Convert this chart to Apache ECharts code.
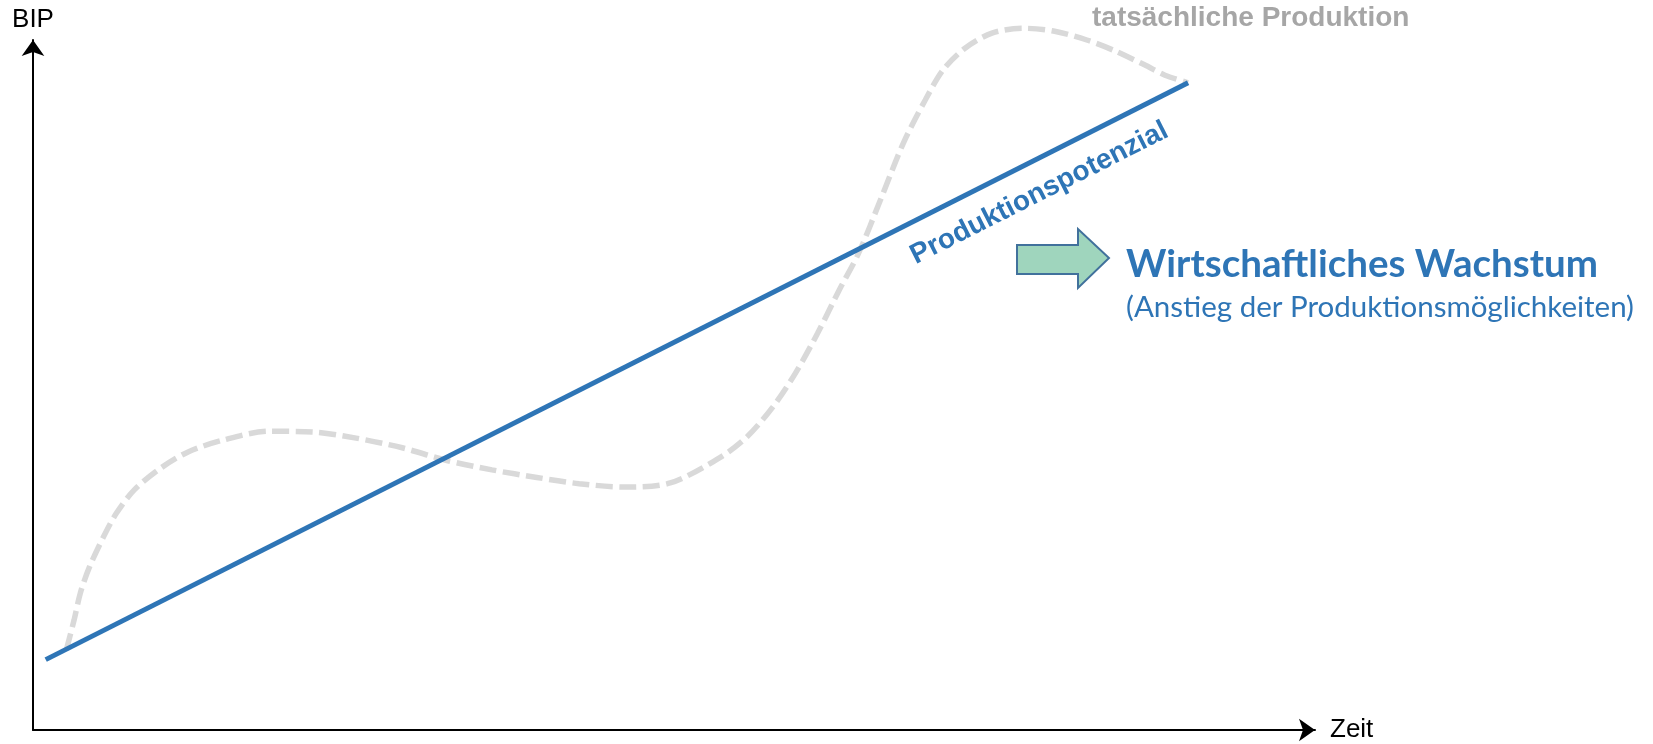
<!DOCTYPE html>
<html>
<head>
<meta charset="utf-8">
<script src="https://cdn.jsdelivr.net/npm/echarts@6/dist/echarts.min.js"></script>
<style>
html,body{margin:0;padding:0;background:#fff;}
#chart{width:1653px;height:744px;}
</style>
</head>
<body>
<div id="chart"></div>
<script>
// Zeit (x) and BIP (y), relative units (axis range 0..100)
var potentialX = [0.99, 90.1];
var potentialY = [10.2, 93.8];

var actualX = [2.6, 3.2, 3.7, 4.4, 5.5, 6.5, 7.9, 10.0, 12.1, 14.8, 18.4, 21.8, 25.2, 28.8, 32.2, 35.8, 39.3, 42.6, 46.2, 49.7, 53.6, 55.7, 57.7, 59.5, 61.2, 62.9, 64.4, 66.1, 67.9, 69.6, 71.0, 72.7, 74.8, 77.2, 79.6, 82.2, 84.3, 86.7, 88.3, 90.1];
var actualY = [11.6, 15.9, 19.9, 23.6, 28.0, 31.4, 34.8, 38.0, 40.3, 42.0, 43.3, 43.2, 42.3, 40.9, 39.1, 37.7, 36.6, 35.7, 35.2, 35.8, 39.5, 42.5, 46.8, 51.8, 57.5, 63.8, 69.1, 76.8, 85.1, 91.3, 95.7, 98.8, 101.0, 101.7, 101.3, 100.0, 98.5, 96.4, 94.9, 93.8];

var potentialLabelPos = [78.5, 77.8];
var potentialLabel = 'Produktionspotenzial';
var actualLabel = 'tatsächliche Produktion';
var growthTitle = 'Wirtschaftliches Wachstum';
var growthSub = '(Anstieg der Produktionsmöglichkeiten)';
var xName = 'Zeit';
var yName = 'BIP';

function zip(a, b) { return a.map(function (v, i) { return [v, b[i]]; }); }

var BLUE = '#2e75b6';
var chart = echarts.init(document.getElementById('chart'));
chart.setOption({
  animation: false,
  backgroundColor: '#ffffff',
  grid: { left: 33, right: 338, top: 40, bottom: 14, containLabel: false },
  xAxis: {
    type: 'value', min: 0, max: 100,
    name: xName, nameLocation: 'end', nameGap: 15,
    nameTextStyle: { fontSize: 26, color: '#000', fontFamily: 'Liberation Sans, Arial' },
    axisLine: { show: true, symbol: ['none', 'arrow'], symbolSize: [17, 16], lineStyle: { color: '#000', width: 2 } },
    axisTick: { show: false }, axisLabel: { show: false }, splitLine: { show: false }
  },
  yAxis: {
    type: 'value', min: 0, max: 100,
    name: yName, nameLocation: 'end', nameGap: 7,
    nameTextStyle: { fontSize: 26, color: '#000', fontFamily: 'Liberation Sans, Arial' },
    axisLine: { show: true, symbol: ['none', 'arrow'], symbolSize: [17, 16], lineStyle: { color: '#000', width: 2 } },
    axisTick: { show: false }, axisLabel: { show: false }, splitLine: { show: false }
  },
  series: [
    {
      type: 'line', data: zip(actualX, actualY), smooth: 0.3, symbol: 'none', clip: false, z: 1,
      lineStyle: { color: '#d9d9d9', width: 5.5, type: [17, 6.5] }
    },
    {
      type: 'line', data: zip(potentialX, potentialY), symbol: 'none', clip: false, z: 2,
      lineStyle: { color: BLUE, width: 5 }
    },
    {
      type: 'scatter', data: [potentialLabelPos], symbolSize: 0, clip: false, z: 3, silent: true,
      itemStyle: { opacity: 1, color: BLUE },
      label: {
        show: true, position: 'inside', rotate: 26.8, formatter: potentialLabel,
        fontSize: 28, fontWeight: 'bold', color: BLUE, opacity: 1, fontFamily: 'Liberation Sans, Arial'
      }
    }
  ],
  graphic: [
    {
      type: 'text', left: 1092, top: 4,
      style: { text: actualLabel, fontSize: 28, fontWeight: 'bold', fill: '#a6a6a6', fontFamily: 'Liberation Sans, Arial' }
    },
    {
      type: 'polygon',
      shape: { points: [[1017, 245], [1078, 245], [1078, 229], [1109, 258], [1078, 288], [1078, 274], [1017, 274]] },
      style: { fill: '#9fd5bd', stroke: '#41719c', lineWidth: 2 }
    },
    {
      type: 'text', left: 1126, top: 245,
      style: { text: growthTitle, fontSize: 38.5, fontWeight: 'bold', fill: BLUE, fontFamily: 'Lato' }
    },
    {
      type: 'text', left: 1126, top: 292,
      style: { text: growthSub, fontSize: 29.5, fill: BLUE, fontFamily: 'Lato' }
    }
  ]
});
</script>
</body>
</html>
